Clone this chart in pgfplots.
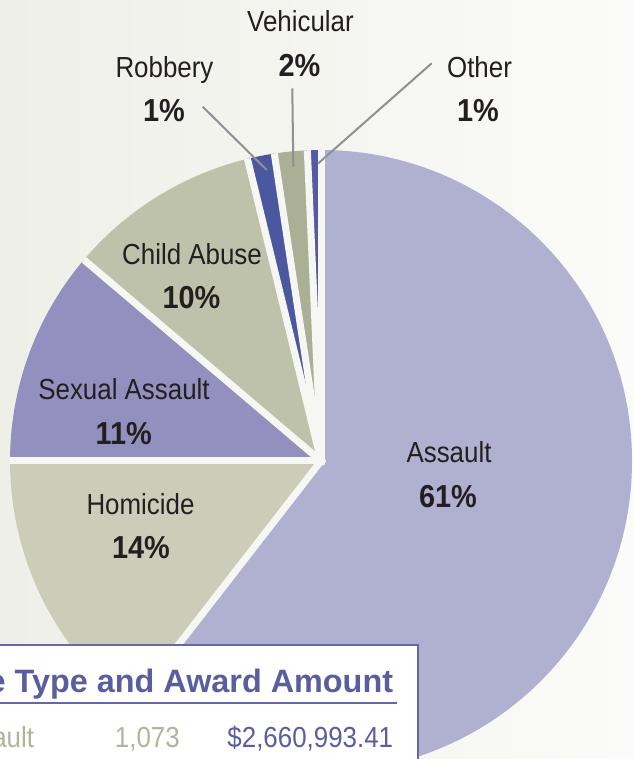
\documentclass[border=0pt]{standalone}
\usepackage{fontspec}
\setmainfont{Liberation Sans}
\usepackage{pgfplots}
\usepackage{pgfplotstable}
\pgfplotsset{compat=1.18}

\definecolor{cAssault}{HTML}{B0B0D0}
\definecolor{cHomicide}{HTML}{CBCDB9}
\definecolor{cSexual}{HTML}{938FBE}
\definecolor{cChild}{HTML}{BFC2AA}
\definecolor{cRobbery}{HTML}{4B58A0}
\definecolor{cVehicular}{HTML}{ABAF96}
\definecolor{cOther}{HTML}{555AA5}
\definecolor{gapcol}{HTML}{F6F7F2}
\definecolor{bgL}{HTML}{EEEFE7}
\definecolor{bgR}{HTML}{FBFBF9}
\definecolor{boxcol}{HTML}{6468A5}
\definecolor{headcol}{HTML}{5A5E9E}
\definecolor{rowgreen}{HTML}{B1B598}
\definecolor{labcol}{HTML}{231F20}
\definecolor{leader}{HTML}{8F9094}

% share of each crime type (percent), clockwise from 12 o'clock
\pgfplotstableread{
name value color
Assault 60.5 cAssault
Homicide 14.5 cHomicide
SexualAssault 11.2 cSexual
ChildAbuse 10.0 cChild
Robbery 1.4 cRobbery
Vehicular 1.7 cVehicular
Other 0.7 cOther
}\piedata

\begin{document}
\begin{tikzpicture}[
  lab/.style={font=\fontsize{26}{30}\selectfont, text=labcol, anchor=base, yscale=1.12, inner sep=0pt},
  pct/.style={font=\fontsize{29}{33}\selectfont\bfseries, text=labcol, anchor=base, yscale=1.1, inner sep=0pt},
]
\begin{axis}[
  width=634bp, height=759bp, scale only axis,
  xmin=0, xmax=634, ymin=0, ymax=759,
  hide axis, clip=true,
]
% background
\fill[left color=bgL, right color=bgR] (axis cs:0,0) rectangle (axis cs:634,759);

% wedges
\def\angA{90}
\pgfplotsforeachungrouped \i in {0,...,6}{%
  \pgfplotstablegetelem{\i}{value}\of\piedata \let\val\pgfplotsretval
  \pgfplotstablegetelem{\i}{color}\of\piedata \let\col\pgfplotsretval
  \pgfmathsetmacro\angB{\angA-3.6*\val}%
  \edef\wedge{\noexpand\fill[fill=\col] (axis cs:321,298) -- ++(\angA:311bp)
    arc[start angle=\angA, end angle=\angB, radius=311bp] -- cycle;}%
  \wedge
  \global\let\angA\angB
}
% gaps between wedges
\def\angA{90}
\pgfplotsforeachungrouped \i in {0,...,6}{%
  \pgfplotstablegetelem{\i}{value}\of\piedata \let\val\pgfplotsretval
  \edef\gap{\noexpand\draw[gapcol, line width=7bp] (axis cs:321,298) -- ++(\angA:311bp);}%
  \gap
  \pgfmathsetmacro\angB{\angA-3.6*\val}%
  \global\let\angA\angB
}
\fill[gapcol] (axis cs:321,298) circle[radius=5bp];

% leader lines
\draw[leader, line width=2bp] (axis cs:202.7,652.3) -- (axis cs:266.7,589);
\draw[leader, line width=2bp] (axis cs:292.3,670.7) -- (axis cs:293.3,592.3);
\draw[leader, line width=2bp] (axis cs:431.7,695.7) -- (axis cs:318.3,595.7);

% labels
\node[lab] at (axis cs:300.5,727) {Vehicular};
\node[pct] at (axis cs:299.5,682) {2\%};
\node[lab] at (axis cs:164.5,681.7) {Robbery};
\node[pct] at (axis cs:164,637.3) {1\%};
\node[lab] at (axis cs:479.5,681) {Other};
\node[pct] at (axis cs:478,637) {1\%};
\node[lab] at (axis cs:192,494) {Child Abuse};
\node[pct] at (axis cs:191.5,450) {10\%};
\node[lab] at (axis cs:124,359) {Sexual Assault};
\node[pct] at (axis cs:123.7,314) {11\%};
\node[lab] at (axis cs:140.5,244) {Homicide};
\node[pct] at (axis cs:141,200) {14\%};
\node[lab] at (axis cs:449,296) {Assault};
\node[pct] at (axis cs:448,251) {61\%};

% table box
\filldraw[fill=white, draw=boxcol, line width=2.5bp] (axis cs:-10,-10) rectangle (axis cs:418,114);
\draw[boxcol, line width=2bp] (axis cs:-5,56.3) -- (axis cs:396.7,56.3);
\node[font=\fontsize{32.5}{36}\selectfont\bfseries, text=headcol, anchor=base east, inner sep=0pt]
  at (axis cs:393.3,66.3) {Crime Type and Award Amount};
\node[font=\fontsize{26}{30}\selectfont, text=rowgreen, anchor=base east, yscale=1.12, inner sep=0pt]
  at (axis cs:34.3,11.7) {Assault};
\node[font=\fontsize{26}{30}\selectfont, text=rowgreen, anchor=base east, yscale=1.12, inner sep=0pt]
  at (axis cs:180,11.7) {1,073};
\node[font=\fontsize{26}{30}\selectfont, text=headcol, anchor=base east, yscale=1.12, inner sep=0pt]
  at (axis cs:393.3,11.7) {\$2,660,993.41};
\end{axis}
\pgfresetboundingbox
\path[use as bounding box] (current axis.south west) rectangle (current axis.north east);
\end{tikzpicture}
\end{document}
